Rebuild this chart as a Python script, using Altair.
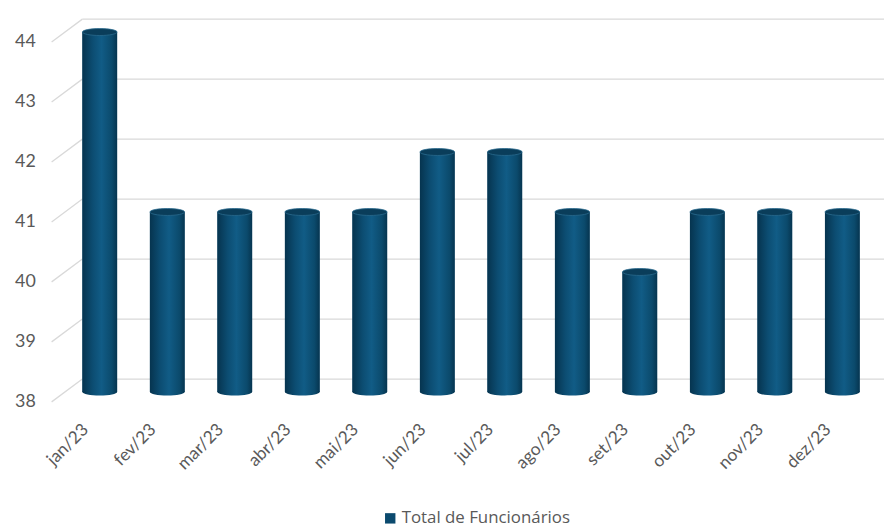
import altair as alt
import pandas as pd

months = ["jan/23", "fev/23", "mar/23", "abr/23", "mai/23", "jun/23",
          "jul/23", "ago/23", "set/23", "out/23", "nov/23", "dez/23"]
values = [44, 41, 41, 41, 41, 42, 42, 41, 40, 41, 41, 41]
ticks = [38, 39, 40, 41, 42, 43, 44]
series = "Total de Funcionários"

df = pd.DataFrame({"mes": months, "valor": values, "serie": [series] * len(months)})
tdf = pd.DataFrame({"t": ticks})

W, H = 817, 363
GRAY = "#595959"
GRID = "#d9d9d9"
ELLIPSE = "M-1,0A1,0.2,0,1,1,1,0A1,0.2,0,1,1,-1,0Z"

ysc = alt.Scale(domain=[38, 44], nice=False, zero=False)
xsc = alt.Scale(domain=months, paddingInner=0, paddingOuter=0)

grad = alt.Gradient(
    gradient="linear",
    stops=[
        alt.GradientStop(color="#06344f", offset=0),
        alt.GradientStop(color="#0c4d72", offset=0.3),
        alt.GradientStop(color="#115c86", offset=0.55),
        alt.GradientStop(color="#0b4a6c", offset=0.85),
        alt.GradientStop(color="#063550", offset=1),
    ],
    x1=0, x2=1, y1=0, y2=0,
)

xenc = alt.X("mes:N", sort=months, scale=xsc,
             axis=alt.Axis(title=None, labelAngle=-45, labelAlign="right",
                           labelBaseline="middle", labelPadding=35, labelOffset=-14,
                           domain=False, ticks=False, grid=False,
                           labelFont="Lato", labelFontSize=17.5, labelColor=GRAY))

grid = alt.Chart(tdf).mark_rule(color=GRID, strokeWidth=1.3, yOffset=-13).encode(
    y=alt.Y("t:Q", scale=ysc,
            axis=alt.Axis(title=None, values=ticks, format="d", domain=False, ticks=False,
                          grid=False, labelPadding=31, labelOffset=10, labelFont="Lato",
                          labelFontSize=18, labelColor=GRAY)),
    x=alt.value(16.5),
    x2=alt.value(826),
)

diag = alt.Chart(tdf).mark_rule(color=GRID, strokeWidth=1.3, yOffset=10, y2Offset=-13).encode(
    y=alt.Y("t:Q", scale=ysc),
    y2=alt.Y2("t"),
    x=alt.value(-14.5),
    x2=alt.value(16.5),
)

legend_bars = alt.Chart(df).mark_bar(size=35).encode(
    x=xenc,
    y=alt.Y("valor:Q", scale=ysc),
    y2=alt.datum(38),
    color=alt.Color("serie:N", scale=alt.Scale(domain=[series], range=["#0b4a6e"]),
                    legend=alt.Legend(title=None, orient="none", legendX=318.5, legendY=482,
                                      symbolType="square", symbolSize=110,
                                      symbolStrokeWidth=0, labelFont="Open Sans",
                                      labelFontSize=17, labelColor=GRAY, labelOffset=3,
                                      labelLimit=400, padding=0)),
)

bottom = alt.Chart(df).mark_point(shape=ELLIPSE, size=1225, filled=True, fill=grad,
                                  opacity=1, strokeWidth=0).encode(
    x=alt.X("mes:N", sort=months, scale=xsc),
    y=alt.datum(38),
)

bars = alt.Chart(df).mark_bar(size=35, fill=grad).encode(
    x=alt.X("mes:N", sort=months, scale=xsc),
    y=alt.Y("valor:Q", scale=ysc),
    y2=alt.datum(38),
)

top = alt.Chart(df).mark_point(shape=ELLIPSE, size=1225, filled=True, fill="#0a3d5a",
                               opacity=1, stroke="#2a6a8e", strokeWidth=0.8).encode(
    x=alt.X("mes:N", sort=months, scale=xsc),
    y=alt.Y("valor:Q", scale=ysc),
)

chart = alt.layer(grid, diag, legend_bars, bottom, bars, top).properties(
    width=W, height=H,
    autosize=alt.AutoSizeParams(type="none"),
    padding={"left": 58.5, "top": 22, "right": 8, "bottom": 136},
    background="white",
).configure_view(stroke=None)

chart.save("out.html", embed_options={"renderer": "svg", "actions": False})
